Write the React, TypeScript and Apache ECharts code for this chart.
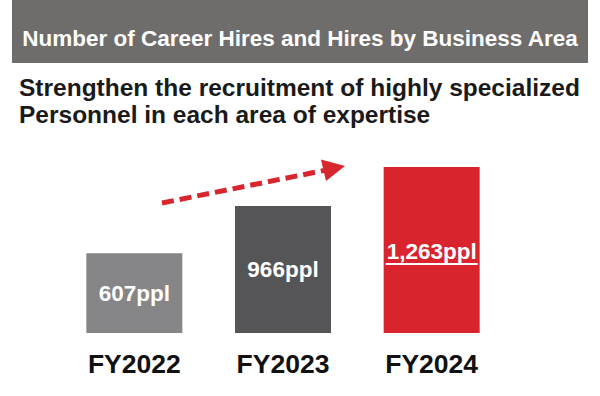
import React, { useEffect, useRef } from "react";
import * as echarts from "echarts";

const categories = ["FY2022", "FY2023", "FY2024"];
const hires = [607, 966, 1263];
const barColors = ["#868689", "#555557", "#d9232d"];
const unit = "ppl";

const titleText = "Number of Career Hires and Hires by Business Area";
const subtitleLines = [
  "Strengthen the recruitment of highly specialized",
  "Personnel in each area of expertise",
];

const FONT = "'Liberation Sans', Arial, sans-serif";

function fmt(v: number) {
  return v.toLocaleString("en-US") + unit;
}

export default function App() {
  const ref = useRef<HTMLDivElement>(null);
  useEffect(() => {
    if (!ref.current) return;
    const chart = echarts.init(ref.current, null, { renderer: "svg" });
    const last = hires.length - 1;
    const option: any = {
      animation: false,
      backgroundColor: "#ffffff",
      textStyle: { fontFamily: FONT },
      title: [
        {
          text: titleText,
          left: "center",
          top: 22,
          textStyle: { color: "#ffffff", fontSize: 22.5, fontWeight: "bold", fontFamily: FONT },
        },
        {
          text: subtitleLines.join("\n"),
          left: 14,
          top: 69,
          textStyle: {
            color: "#1a1a1a",
            fontSize: 24.5,
            fontWeight: "bold",
            fontFamily: FONT,
            lineHeight: 27,
          },
        },
      ],
      graphic: [
        {
          type: "rect",
          z: -1,
          shape: { x: 12, y: 0, width: 576, height: 63 },
          style: { fill: "#6f6c6c" },
        },
        {
          type: "polyline",
          z: 10,
          shape: { points: [[162, 203], [324, 170.5]] },
          style: { stroke: "#d7262e", lineWidth: 5, lineDash: [12, 6], fill: null },
        },
        {
          type: "polygon",
          z: 10,
          shape: { points: [[345, 166], [326, 181], [321, 159.5]] },
          style: { fill: "#d7262e" },
        },
      ],
      grid: { left: 60, right: 94, top: 167, bottom: 63 },
      xAxis: {
        type: "category",
        data: categories,
        axisLine: { show: false },
        axisTick: { show: false },
        axisLabel: {
          color: "#111111",
          fontSize: 26.5,
          fontWeight: "bold",
          fontFamily: FONT,
          margin: 17,
        },
      },
      yAxis: {
        type: "value",
        min: 0,
        max: 1263,
        show: false,
        splitLine: { show: false },
      },
      series: [
        {
          type: "bar",
          barWidth: 96,
          data: hires.map((v, i) => ({
            value: v,
            itemStyle: { color: barColors[i] },
            label:
              i === last
                ? {
                    show: true,
                    position: "inside",
                    offset: [0, 2],
                    formatter: () => "{a|" + fmt(v) + "}\n{u|}",
                    rich: {
                      a: {
                        color: "#ffffff",
                        fontSize: 22.5,
                        fontWeight: "bold",
                        fontFamily: FONT,
                        lineHeight: 24,
                      },
                      u: {
                        width: 92,
                        height: 2,
                        backgroundColor: "#ffffff",
                        lineHeight: 2,
                      },
                    },
                  }
                : {
                    show: true,
                    position: "inside",
                    formatter: () => fmt(v),
                    color: "#ffffff",
                    fontSize: 22.5,
                    fontWeight: "bold",
                    fontFamily: FONT,
                  },
          })),
        },
      ],
    };
    chart.setOption(option);
    return () => chart.dispose();
  }, []);
  return (
    <div
      ref={ref}
      style={{ position: "fixed", left: 0, top: 0, width: 600, height: 396 }}
    />
  );
}
